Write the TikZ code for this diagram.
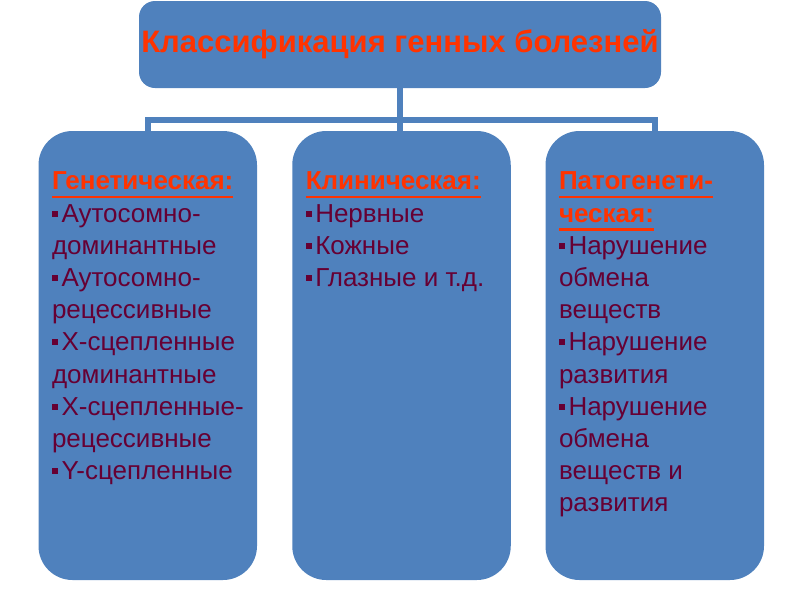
\documentclass[tikz,border=0pt]{standalone}
\usepackage{fontspec}
\setmainfont{Liberation Sans}
\usepackage{xcolor}
\usetikzlibrary{positioning}
\definecolor{boxblue}{HTML}{4F81BD}
\definecolor{headred}{HTML}{FF3300}
\definecolor{itemwine}{HTML}{660033}
\newcommand{\bul}{\rule[5.5pt]{6pt}{6pt}\kern3.5pt}
\newcommand{\hd}[1]{\setbox0\hbox{\bfseries #1}\rlap{\rule[-8.5pt]{\wd0}{2.5pt}}\box0}

\begin{document}
\begin{tikzpicture}[x=1pt, y=-1pt,
        box/.style={fill=boxblue, draw=none, inner sep=0},
        lane/.style={box, rounded corners=34pt, minimum width=218.5pt, minimum height=449pt},
        link/.style={draw=boxblue, line width=6.5pt},
        txt/.style={inner sep=0, align=left, text=itemwine, font=\fontsize{26}{32.2}\selectfont}]
            \useasboundingbox (0,0) rectangle (800,600);
            \node[box, rounded corners=16pt, minimum width=522pt, minimum height=87pt,
                  text=headred, font=\fontsize{31}{34}\selectfont\bfseries] (title) at (400,44.5) {Классификация генных болезней};
            \node[lane] (genetic) at (147.75,355.5) {};
            \node[lane] (clinical) at (401.5,355.5) {};
            \node[lane] (pathogen) at (654.75,355.5) {};
            % connectors
            \coordinate (bar) at (400,120);
            \draw[link] (genetic.north) |- (bar) -| (pathogen.north);
            \draw[link] (title.south) -- (title.south |- clinical.north);
            % texts
            \node[txt, below right=41pt and 13.5pt of genetic.north west] (genetictext)
                {\textcolor{headred}{\hd{Генетическая:}}\\
                 \bul Аутосомно-\\доминантные\\
                 \bul Аутосомно-\\рецессивные\\
                 \bul Х-сцепленные\\доминантные\\
                 \bul Х-сцепленные-\\рецессивные\\
                 \bul Y-сцепленные};
            \node[txt, below right=41pt and 13.5pt of clinical.north west] (clinicaltext)
                {\textcolor{headred}{\hd{Клиническая:}}\\
                 \bul Нервные\\
                 \bul Кожные\\
                 \bul Глазные и т.д.};
            \node[txt, below right=41pt and 13.5pt of pathogen.north west] (pathogentext)
                {\textcolor{headred}{\hd{Патогенети-}}\\
                 \textcolor{headred}{\hd{ческая:}}\\
                 \bul Нарушение\\обмена\\веществ\\
                 \bul Нарушение\\развития\\
                 \bul Нарушение\\обмена\\веществ и\\развития};
        \end{tikzpicture}
\end{document}
